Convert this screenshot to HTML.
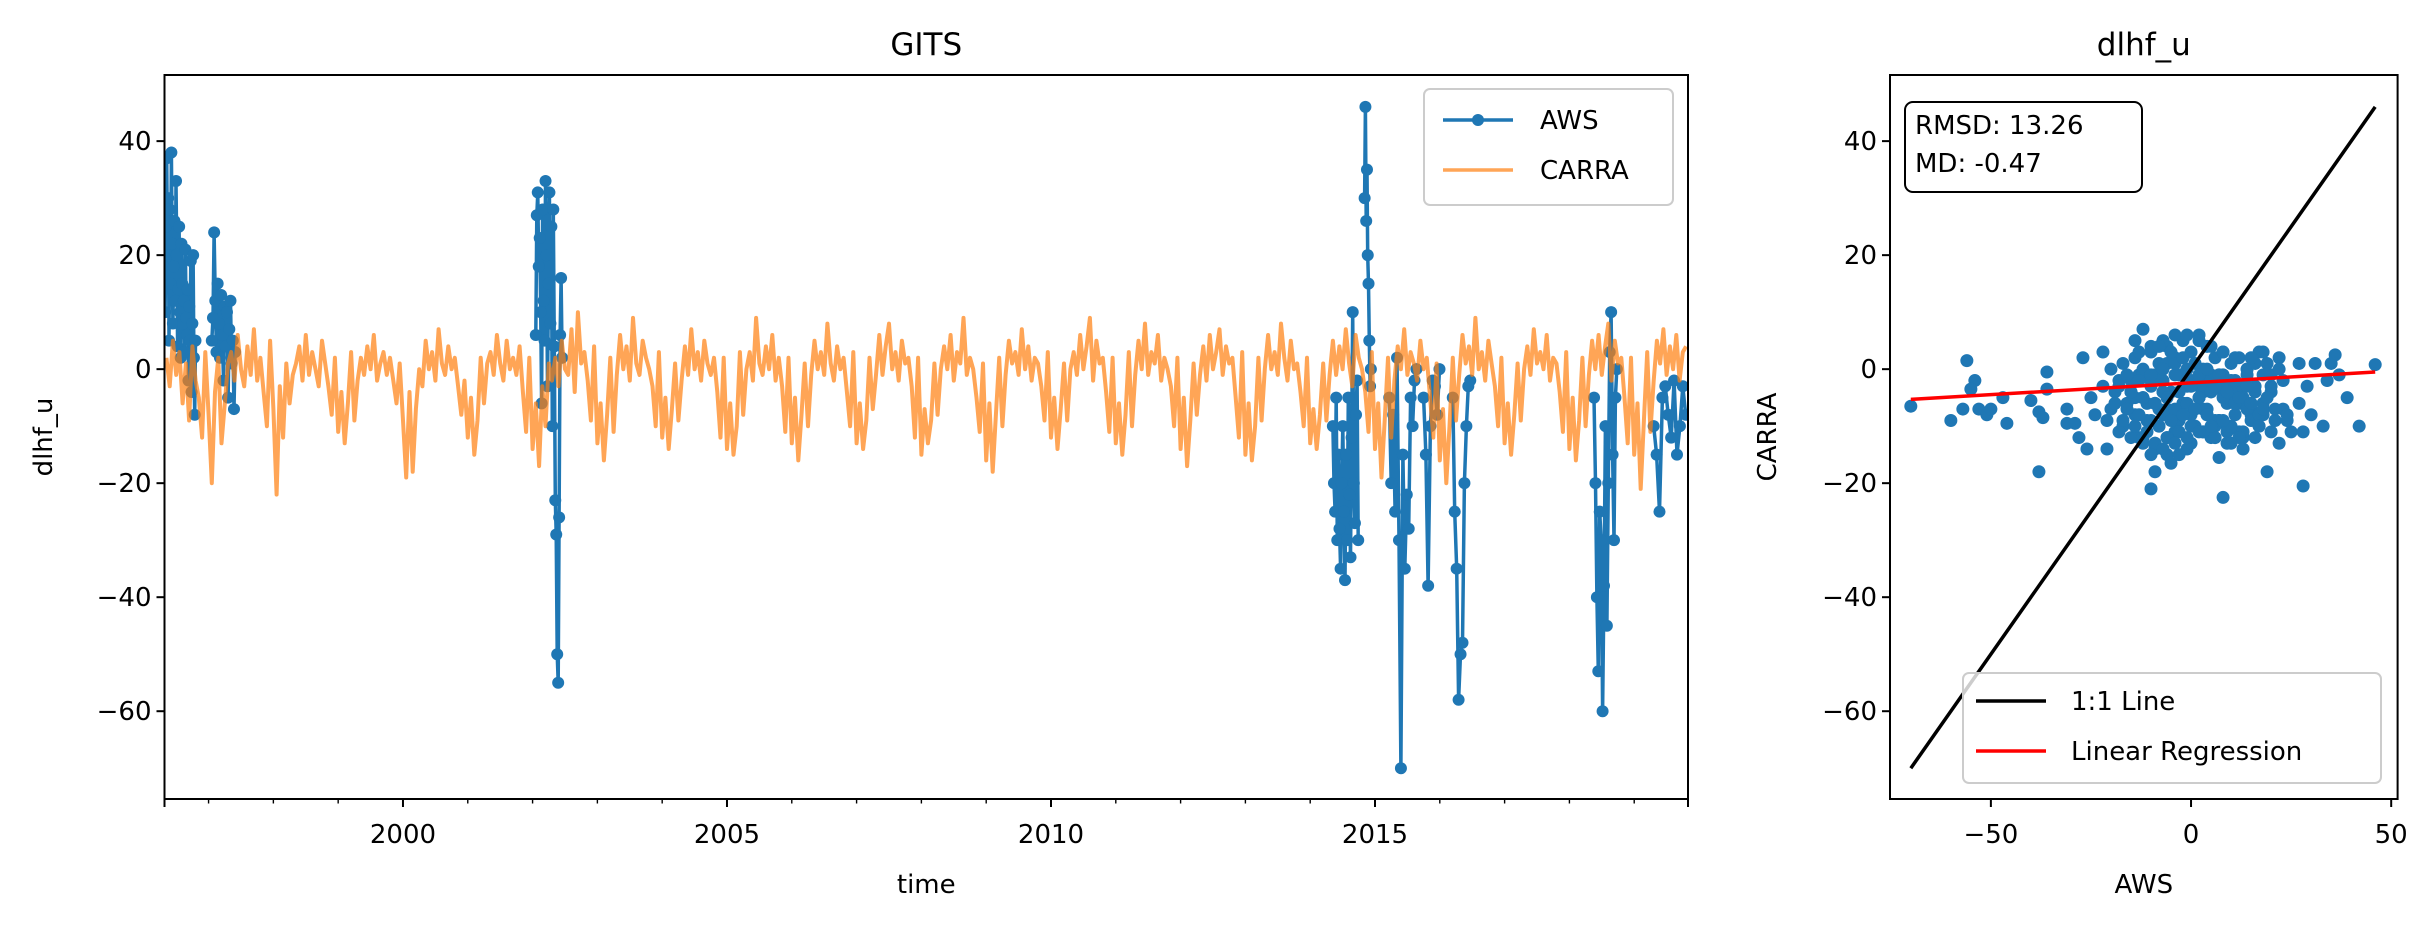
<!DOCTYPE html>
<html><head><meta charset="utf-8"><style>
html,body{margin:0;padding:0;background:#fff;}
svg{display:block;font-family:"DejaVu Sans","Liberation Sans",sans-serif;}
</style></head><body>
<svg id="fig" width="2435" height="926" viewBox="0 0 2435 926" xmlns="http://www.w3.org/2000/svg">
<rect width="2435" height="926" fill="#fff"/>
<g id="ts"></g>
<g id="sc"></g>
</svg>
<script>
// ---- time series data ----
const yTicks = [40, 20, 0, -20, -40, -60];
const xYearTicks = [2000, 2005, 2010, 2015];
const carraStart = 1996.35;
const carraStep = 0.05;
const carraVals = [
2,-3,5,-1,3,-6,1,-9,4,-2,-5,-12,3,-8,-20,-4,2,-13,-6,1,
3,-2,6,0,-3,4,-1,7,-2,2,-4,-10,5,-7,-22,-3,-12,1,-6,-1,
1,4,-2,6,-1,3,0,-3,5,1,-3,-8,2,-11,-4,-13,-6,3,-9,-2,
2,-1,4,0,6,-2,1,3,-1,2,-2,-6,1,-9,-19,-4,-18,-7,0,-3,
5,0,3,-2,7,1,-1,4,0,2,-3,-8,-2,-12,-5,-15,-9,2,-6,1,
3,-1,6,1,-2,5,0,2,-1,4,-4,-11,2,-14,-6,-17,-3,-10,1,-2,
2,-3,5,0,-1,7,-4,10,1,3,-2,-9,4,-13,-6,-16,-8,2,-11,-1,
6,0,4,-2,9,1,-1,5,2,0,-3,-10,3,-12,-5,-14,-7,1,-9,-2,
4,-1,7,0,3,-2,5,1,-1,2,-4,-12,2,-14,-6,-15,-10,3,-8,0,
3,-2,9,1,-1,4,0,6,-2,2,-3,-11,2,-13,-5,-16,-8,1,-10,-1,
5,0,3,-1,8,1,-2,4,0,2,-4,-10,3,-13,-6,-14,-9,2,-7,-1,
6,-1,4,8,0,3,-2,5,1,2,-3,-12,2,-15,-7,-13,-9,1,-8,0,
4,0,6,-2,3,1,9,-1,2,0,-5,-11,1,-16,-6,-18,-8,2,-10,-1,
5,1,3,-1,7,0,4,-2,2,1,-3,-9,3,-12,-5,-14,-7,1,-9,0,
3,-1,6,0,4,9,-2,5,1,2,-4,-11,2,-13,-6,-15,-8,3,-10,-1,
5,0,8,-1,3,1,6,-2,2,0,-3,-10,2,-14,-5,-17,-9,1,-8,-1,
4,-2,6,0,3,7,-1,4,1,2,-5,-12,3,-15,-6,-16,-10,2,-9,0,
6,0,3,-1,8,2,-2,5,0,1,-4,-10,2,-13,-7,-14,-8,1,-9,-1,
5,-1,4,0,7,1,-3,6,2,0,-4,-11,3,-14,-6,-19,-9,2,-12,-2,
4,0,7,-1,3,1,-2,5,0,2,-5,-12,1,-16,-7,-20,-10,2,-9,-1,
6,1,4,-1,9,0,3,-2,5,1,-3,-10,2,-13,-6,-15,-8,1,-9,0,
4,-1,7,1,3,0,6,-2,2,1,-4,-11,3,-14,-5,-16,-9,2,-10,-1,
5,0,6,-1,4,8,-2,5,1,2,-5,-13,2,-15,-6,-21,-9,3,-11,-2,
5,1,7,-1,4,0,6,-2,3,4];
// AWS segments: start year, step, values
const awsSegStart = [1996.33, 1997.05, 2002.05, 2014.35, 2014.84, 2015.22, 2015.75, 2016.2, 2018.38, 2019.3];
const awsSegStep  = [0.012, 0.018, 0.015, 0.017, 0.012, 0.03, 0.035, 0.03, 0.022, 0.045];
const awsSegVals = [
 [10,25,37,20,30,5,28,15,38,22,8,18,26,12,33,20,4,14,25,10,2,22,15,8,12,3,21,9,6,14,-2,11,5,19,-4,8,20,2,-8,5],
 [5,9,24,12,3,15,8,2,13,6,-2,11,4,10,-5,7,12,1,5,-7,3],
 [6,27,31,18,23,10,-6,28,12,5,33,20,-3,15,31,8,25,-10,28,4,-23,-29,-50,-55,-26,6,16,2],
 [-10,-20,-25,-5,-30,-15,-28,-35,-20,-10,-25,-37,-15,-30,-5,-22,-33,-12,10,-20,-27,-8,-2,-30],
 [30,46,26,35,20,15,5,-3,0],
 [-5,-20,-8,-25,2,-30,-70,-15,-35,-22,-28,-5,-10,-2,0],
 [-5,-15,-38,-10,-2,-3,-8,0],
 [-5,-25,-35,-58,-50,-48,-20,-10,-3,-2],
 [-5,-20,-40,-53,-25,-30,-60,-38,-10,-45,-20,3,10,-15,-30,-5,0],
 [-10,-15,-25,-5,-3,-8,-12,-2,-15,-10,-3,-8]
];
// ---- scatter data ----
const scX = [-70,-60,-57,-54,-55,-56,-53,-51,-50,-47,-46,-40,-38,-37,-38,-36,-36,-31,-31,-29,-28,-26,-27,-22,-21,-14,-12,-10,-9,-6,-5,2,7,8,19,28,34,35,36,37,39,42,46,30,33,27,25,22,22,27,20,17,14,31,29,24,28,
-25,-22,-20,-18,-16,-15,-14,-13,-12,-11,-10,-9,-8,-7,-6,-5,-4,-3,-2,-1,0,1,2,3,4,5,6,7,8,9,10,11,12,13,14,15,16,18,20,
-24,-21,-19,-17,-15,-13,-11,-9,-7,-5,-3,-1,1,3,5,7,9,11,13,15,17,19,21,23,
-20,-17,-14,-12,-10,-8,-6,-4,-2,0,2,4,6,8,10,12,14,16,18,
-18,-15,-12,-9,-6,-3,0,3,6,9,12,15,18,
-13,-10,-7,-4,-1,2,5,8,11,
-10,-7,-4,-1,2,5,8,-14,-8,-2,4,10,16,-12,-6,0,6,12,-9,-3,3,9,
-19,-16,-13,-10,-7,-4,-1,2,5,8,11,14,17,20,23,
-18,-15,-12,-9,-6,-3,0,3,6,9,12,15,18,21,24,
-17,-14,-11,-8,-5,-2,1,4,7,10,13,16,19,22,
-16,-13,-10,-7,-4,-1,2,5,8,11,14,17,20,
-12,-9,-6,-3,0,3,6,9,12,15,18,
-8,-5,-2,1,4,7,10,13,-10,-7,-4,-1,2,5,8,11,14];
const scY = [-6.5,-9,-7,-2,-3.5,1.5,-7,-8,-7,-5,-9.5,-5.5,-7.5,-8.5,-18,-3.5,-0.5,-7,-9.5,-9.5,-12,-14,2,3,-14,5,7,-21,-18,-15,-16.5,-5,-15.5,-22.5,-18,-20.5,-2,1,2.5,-1,-5,-10,0.8,-8,-10,-6,-11,-13,2,1,-4,3,0,1,-3,-9,-11,
-5,-3,-7,-2,-6,-4,-8,-1,-5,-9,-3,-6,-10,-2,-7,-4,-11,-1,-6,-3,-8,-2,-5,0,-7,-3,-9,-1,-4,-6,-2,-8,-3,-5,-1,-7,-4,-6,-3,
-8,-9,-4,-10,-2,-12,-6,-13,-4,-12,-9,-14,-10,-7,-12,-9,-11,-6,-12,-8,-10,-5,-9,-7,
0,1,2,0,3,1,4,2,5,3,6,4,2,3,1,2,0,1,-1,
-11,-12,-13,-14,-12,-15,-13,-11,-12,-10,-11,-9,-8,
3,4,5,6,6,5,4,3,2,
-2,-4,-1,0,-3,-1,-2,-5,-7,-6,-8,-4,-3,-1,1,-2,-10,-6,-1,-7,
-4,-5,-6,-7,-8,-9,-8,-7,-6,-5,-4,-5,-6,-7,-8,
-1,-2,-3,-4,-5,-6,-5,-4,-3,-2,-3,-4,-5,-6,-7,
-7,-8,-9,-10,-11,-10,-9,-8,-7,-8,-9,-10,-11,-12,
1,0,-1,-2,-1,0,1,0,-1,-2,-1,-2,-3,
-10,-11,-12,-13,-12,-11,-10,-11,-12,-13,-12,
2,3,4,3,2,1,0,-1,-13,-14,-15,-14,-13,-12,-11,-10,-9];
const scXTicks = [-50, 0, 50];
const oneToOne = [-70, 46];
const regX = [-70, 46];
const regY = [-5.3, -0.5];
const statsText = ["RMSD: 13.26", "MD: -0.47"];

const NS = "http://www.w3.org/2000/svg";
function mk(parent, tag, attrs, text) {
  const e = document.createElementNS(NS, tag);
  for (const k in attrs) e.setAttribute(k, attrs[k]);
  if (text !== undefined) e.textContent = text;
  parent.appendChild(e);
  return e;
}
const fmt = v => (v < 0 ? "\u2212" + Math.abs(v) : "" + v);
const FS = 26, TFS = 31;

// ---- panel 1 ----
const ts = document.getElementById("ts");
const L = 164.5, R = 1688, T = 75, B = 799;
const xMin = 1996.32, xMax = 2019.83, yMin = -75.4, yMax = 51.6;
const sx = t => L + (t - xMin) / (xMax - xMin) * (R - L);
const sy = v => B - (v - yMin) / (yMax - yMin) * (B - T);
const clip = mk(ts, "clipPath", {id: "c1"});
mk(clip, "rect", {x: L, y: T, width: R - L, height: B - T});
const plot = mk(ts, "g", {"clip-path": "url(#c1)"});


awsSegVals.forEach((vals, si) => {
  let d = "";
  vals.forEach((v, i) => { const t = awsSegStart[si] + i * awsSegStep[si]; d += (i ? "L" : "M") + sx(t).toFixed(1) + "," + sy(v).toFixed(1); });
  const p = mk(plot, "path", {d: d, fill: "none", stroke: "#1f77b4", "stroke-width": 3.5, "stroke-linejoin": "round"});
  
  
  vals.forEach((v, i) => {
    const t = awsSegStart[si] + i * awsSegStep[si];
    const c = mk(plot, "circle", {cx: sx(t), cy: sy(v), r: 6, fill: "#1f77b4"});
    
    
  });
});
let dc = "";
carraVals.forEach((v, i) => { const t = carraStart + i * carraStep; dc += (i ? "L" : "M") + sx(t).toFixed(1) + "," + sy(v).toFixed(1); });
const cp = mk(plot, "path", {d: dc, fill: "none", stroke: "#ff7f0e", "stroke-opacity": 0.7, "stroke-width": 4, "stroke-linejoin": "round"});


const f1 = mk(ts, "rect", {x: L, y: T, width: R - L, height: B - T, fill: "none", stroke: "#000", "stroke-width": 2});


yTicks.forEach(v => {
  mk(ts, "line", {x1: L - 8, x2: L, y1: sy(v), y2: sy(v), stroke: "#000", "stroke-width": 2});
  const t = mk(ts, "text", {x: L - 13, y: sy(v) + 9, "text-anchor": "end", "font-size": FS}, fmt(v));
  
  
});
for (let y = 1997; y <= 2019; y++) {
  const major = xYearTicks.includes(y);
  mk(ts, "line", {x1: sx(y), x2: sx(y), y1: B, y2: B + (major ? 8 : 4.5), stroke: "#000", "stroke-width": major ? 2 : 1.4});
}
mk(ts, "line", {x1: L, x2: L, y1: B, y2: B + 8, stroke: "#000", "stroke-width": 2});
mk(ts, "line", {x1: R, x2: R, y1: B, y2: B + 8, stroke: "#000", "stroke-width": 2});
xYearTicks.forEach(y => {
  const t = mk(ts, "text", {x: sx(y), y: 843, "text-anchor": "middle", "font-size": FS}, "" + y);
  
  
});
const tt = mk(ts, "text", {x: (L + R) / 2, y: 55, "text-anchor": "middle", "font-size": TFS}, "GITS");


const xl = mk(ts, "text", {x: (L + R) / 2, y: 893, "text-anchor": "middle", "font-size": FS}, "time");


const yl = mk(ts, "text", {x: 0, y: 0, transform: "translate(52,437) rotate(-90)", "text-anchor": "middle", "font-size": FS}, "dlhf_u");


const lg = mk(ts, "g", {});


mk(lg, "rect", {x: 1424, y: 89, width: 249, height: 116, rx: 6, fill: "#fff", "fill-opacity": 0.8, stroke: "#ccc", "stroke-width": 2});
mk(lg, "line", {x1: 1443, x2: 1513, y1: 120, y2: 120, stroke: "#1f77b4", "stroke-width": 3.5});
mk(lg, "circle", {cx: 1478, cy: 120, r: 6, fill: "#1f77b4"});
const le1 = mk(lg, "text", {x: 1540, y: 129, "font-size": FS}, "AWS");


mk(lg, "line", {x1: 1443, x2: 1513, y1: 170, y2: 170, stroke: "#ff7f0e", "stroke-opacity": 0.7, "stroke-width": 3.5});
const le2 = mk(lg, "text", {x: 1540, y: 179, "font-size": FS}, "CARRA");



// ---- panel 2 ----
const sc = document.getElementById("sc");
const L2 = 1890, R2 = 2397.6;
const x2Min = -75.2, x2Max = 51.6;
const sx2 = v => L2 + (v - x2Min) / (x2Max - x2Min) * (R2 - L2);
const clip2 = mk(sc, "clipPath", {id: "c2"});
mk(clip2, "rect", {x: L2, y: T, width: R2 - L2, height: B - T});
const plot2 = mk(sc, "g", {"clip-path": "url(#c2)"});


scX.forEach((x, i) => {
  const c = mk(plot2, "circle", {cx: sx2(x), cy: sy(scY[i]), r: 6.5, fill: "#1f77b4"});
  
  
});
const l11 = mk(plot2, "line", {x1: sx2(oneToOne[0]), y1: sy(oneToOne[0]), x2: sx2(oneToOne[1]), y2: sy(oneToOne[1]), stroke: "#000", "stroke-width": 3.5});


const lr = mk(plot2, "line", {x1: sx2(regX[0]), y1: sy(regY[0]), x2: sx2(regX[1]), y2: sy(regY[1]), stroke: "#ff0000", "stroke-width": 3.5});


const f2 = mk(sc, "rect", {x: L2, y: T, width: R2 - L2, height: B - T, fill: "none", stroke: "#000", "stroke-width": 2});


yTicks.forEach(v => {
  mk(sc, "line", {x1: L2 - 8, x2: L2, y1: sy(v), y2: sy(v), stroke: "#000", "stroke-width": 2});
  const t = mk(sc, "text", {x: L2 - 13, y: sy(v) + 9, "text-anchor": "end", "font-size": FS}, fmt(v));
  
  
});
scXTicks.forEach(v => {
  mk(sc, "line", {x1: sx2(v), x2: sx2(v), y1: B, y2: B + 8, stroke: "#000", "stroke-width": 2});
  const t = mk(sc, "text", {x: sx2(v), y: 843, "text-anchor": "middle", "font-size": FS}, fmt(v));
  
  
});
const t2 = mk(sc, "text", {x: (L2 + R2) / 2, y: 55, "text-anchor": "middle", "font-size": TFS}, "dlhf_u");


const xl2 = mk(sc, "text", {x: (L2 + R2) / 2, y: 893, "text-anchor": "middle", "font-size": FS}, "AWS");


const yl2 = mk(sc, "text", {x: 0, y: 0, transform: "translate(1776,437) rotate(-90)", "text-anchor": "middle", "font-size": FS}, "CARRA");


const sb = mk(sc, "g", {});


mk(sb, "rect", {x: 1905, y: 102, width: 237, height: 90, rx: 8, fill: "#fff", stroke: "#000", "stroke-width": 2});
statsText.forEach((s, i) => {
  const t = mk(sb, "text", {x: 1915, y: 134 + i * 38, "font-size": FS}, s);
  
  
});
const lg2 = mk(sc, "g", {});


mk(lg2, "rect", {x: 1963, y: 673, width: 418, height: 110, rx: 6, fill: "#fff", "fill-opacity": 0.8, stroke: "#ccc", "stroke-width": 2});
mk(lg2, "line", {x1: 1976, x2: 2046, y1: 701, y2: 701, stroke: "#000", "stroke-width": 3.5});
const e1 = mk(lg2, "text", {x: 2071, y: 710, "font-size": FS}, "1:1 Line");


mk(lg2, "line", {x1: 1976, x2: 2046, y1: 751, y2: 751, stroke: "#ff0000", "stroke-width": 3.5});
const e2 = mk(lg2, "text", {x: 2071, y: 760, "font-size": FS}, "Linear Regression");


</script>
</body></html>
